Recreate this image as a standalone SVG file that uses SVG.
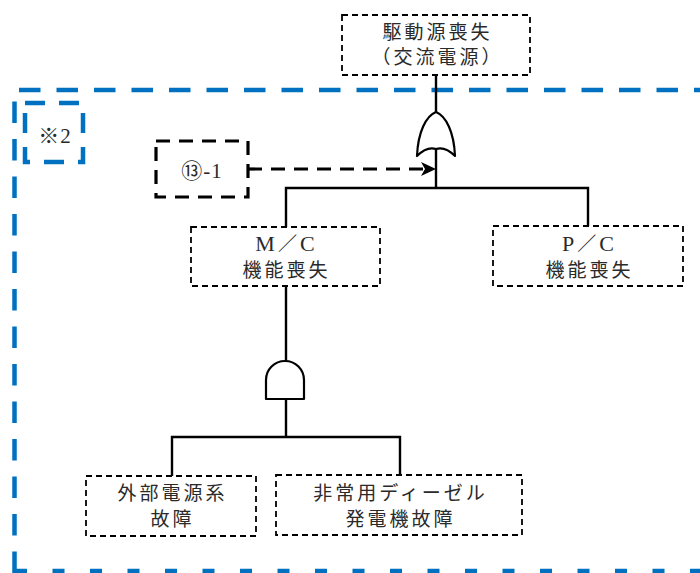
<svg xmlns="http://www.w3.org/2000/svg" width="700" height="573" viewBox="0 0 700 573">
<style>
.box{fill:#fff;stroke:#000;stroke-width:1.8;stroke-dasharray:6,4}
.ln{fill:none;stroke:#000;stroke-width:2.4}
.gate{fill:#fff;stroke:#000;stroke-width:2.2;stroke-linejoin:round}
.t{font-family:"Liberation Serif","Noto Sans CJK JP",serif;font-size:19px;fill:#2a2a2a;text-anchor:middle;letter-spacing:3px}
.s{font-family:"Liberation Serif","Noto Sans CJK JP",serif;font-size:21px;fill:#2a2a2a;text-anchor:middle;letter-spacing:1px}
.L{font-size:22px}
.blue{fill:none;stroke:#0070C0;stroke-width:4.5}
</style>
<g id="frame">
<path class="blue" d="M14.5,573 L14.5,90 L700,90" stroke-dasharray="21.5,16"/>
<line class="blue" x1="15" y1="571" x2="700" y2="571" stroke-dasharray="12,25.5"/>
</g>
<g id="note2">
<rect x="25" y="103" width="58" height="59" class="blue" stroke-dasharray="20,14"/>
<text x="55" y="143" class="s">※2</text>
</g>
<g id="connectors">
<line class="ln" x1="436" y1="75" x2="436" y2="112"/>
<line class="ln" x1="436" y1="149" x2="436" y2="188"/>
<polyline class="ln" points="286,227 286,188 588,188 588,226"/>
<line class="ln" x1="286" y1="286" x2="286" y2="361"/>
<line class="ln" x1="286" y1="399" x2="286" y2="437"/>
<polyline class="ln" points="172,476 172,437 400,437 400,475"/>
<line x1="248" y1="169" x2="426" y2="169" stroke="#000" stroke-width="3.2" stroke-dasharray="14,9"/>
<path d="M436,169 L421,162 L425,169 L421,176 Z" fill="#000"/>
</g>
<g id="orgate">
<path class="gate" d="M436,112 C446,116 454,132 455,156 Q445,146 436,149 Q427,146 417,156 C418,132 426,116 436,112 Z"/>
</g>
<g id="andgate">
<path class="gate" d="M266,399 L266,380 A19,19 0 0 1 304,380 L304,399 Z"/>
</g>
<g id="top">
<rect class="box" x="342" y="15" width="188" height="60"/>
<text class="t" x="437.5" y="39">駆動源喪失</text>
<text class="t" x="437.5" y="64">（交流電源）</text>
</g>
<g id="ref13">
<rect x="156" y="141" width="92" height="56" fill="#fff" stroke="#000" stroke-width="3.2" stroke-dasharray="14,9"/>
<text x="202" y="178" class="s">⑬-1</text>
</g>
<g id="mc">
<rect class="box" x="191" y="227" width="189" height="59"/>
<text class="t" x="286.5" y="251"><tspan class="L">M</tspan>／<tspan class="L">C</tspan></text>
<text class="t" x="286.5" y="277">機能喪失</text>
</g>
<g id="pc">
<rect class="box" x="493" y="226" width="190" height="60"/>
<text class="t" x="589.5" y="251"><tspan class="L">P</tspan>／<tspan class="L">C</tspan></text>
<text class="t" x="589.5" y="277">機能喪失</text>
</g>
<g id="ext">
<rect class="box" x="86" y="476" width="170" height="60"/>
<text class="t" x="172.5" y="500">外部電源系</text>
<text class="t" x="172.5" y="526">故障</text>
</g>
<g id="dg">
<rect class="box" x="276" y="475" width="246" height="60"/>
<text class="t" x="400.5" y="500">非常用ディーゼル</text>
<text class="t" x="400.5" y="526">発電機故障</text>
</g>
</svg>
